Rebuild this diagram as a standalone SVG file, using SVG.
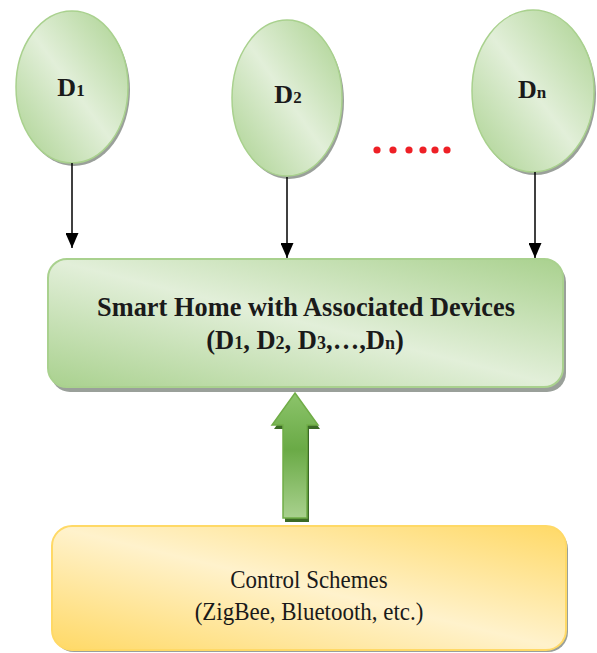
<svg xmlns="http://www.w3.org/2000/svg" width="597" height="653" viewBox="0 0 597 653">
  <defs>
    <linearGradient id="gGreen" x1="0" y1="1" x2="1" y2="0">
      <stop offset="0" stop-color="#a9d18e"/>
      <stop offset="0.5" stop-color="#e2efd9"/>
      <stop offset="1" stop-color="#a9d18e"/>
    </linearGradient>
    <linearGradient id="gYellow" x1="0" y1="1" x2="1" y2="0">
      <stop offset="0" stop-color="#ffd966"/>
      <stop offset="0.5" stop-color="#fff2cc"/>
      <stop offset="1" stop-color="#ffd966"/>
    </linearGradient>
    <linearGradient id="gArrow" x1="0" y1="0" x2="0" y2="1">
      <stop offset="0" stop-color="#8cc46b"/>
      <stop offset="0.45" stop-color="#6aaa46"/>
      <stop offset="1" stop-color="#a9d18e"/>
    </linearGradient>
    <marker id="ah" viewBox="0 0 15 13" refX="15" refY="6.5" markerWidth="15" markerHeight="13" markerUnits="userSpaceOnUse" orient="auto">
      <path d="M0,0 L15,6.5 L0,13 Z" fill="#000"/>
    </marker>
  </defs>
  <style>
    .shadow { fill: #9aa09a; }
    .ell { fill: url(#gGreen); stroke: #a9d18e; stroke-width: 1.5; }
    .lbl { font-family: "Liberation Serif", "Times New Roman", serif; font-weight: bold; fill: #1a1a1a; }
    .reg { font-family: "Liberation Serif", "Times New Roman", serif; fill: #1a1a1a; }
    .conn { stroke: #000; stroke-width: 1.5; fill: none; marker-end: url(#ah); }
    .dot { fill: #ee2026; }
    .sub { font-size: 17px; }
    .sub2 { font-size: 18px; }
  </style>

  <g id="node-d1">
    <ellipse class="shadow" cx="74" cy="90" rx="56" ry="76"/>
    <ellipse class="ell" cx="72" cy="87" rx="56" ry="76"/>
    <text class="lbl" x="71" y="96" text-anchor="middle" font-size="26">D<tspan class="sub">1</tspan></text>
  </g>

  <g id="node-d2">
    <ellipse class="shadow" cx="289" cy="101" rx="55" ry="78"/>
    <ellipse class="ell" cx="287" cy="98" rx="55" ry="78"/>
    <text class="lbl" x="288" y="103" text-anchor="middle" font-size="26">D<tspan class="sub">2</tspan></text>
  </g>

  <g id="node-dn">
    <ellipse class="shadow" cx="535" cy="94" rx="61" ry="81"/>
    <ellipse class="ell" cx="533" cy="91" rx="61" ry="81"/>
    <text class="lbl" x="532" y="98" text-anchor="middle" font-size="26">D<tspan class="sub">n</tspan></text>
  </g>

  <g id="ellipsis">
    <circle class="dot" cx="377" cy="150" r="3.6"/>
    <circle class="dot" cx="393" cy="150" r="3.6"/>
    <circle class="dot" cx="409" cy="150" r="3.6"/>
    <circle class="dot" cx="423" cy="150" r="3.6"/>
    <circle class="dot" cx="435" cy="150" r="3.6"/>
    <circle class="dot" cx="447" cy="150" r="3.6"/>
  </g>

  <g id="node-smarthome">
    <rect class="shadow" x="51" y="263" width="515" height="129" rx="19"/>
    <rect x="48" y="259" width="515" height="128" rx="19" fill="url(#gGreen)" stroke="#a9d18e" stroke-width="2"/>
    <text class="lbl" x="306" y="316" text-anchor="middle" font-size="26.3" textLength="418">Smart Home with Associated Devices</text>
    <text class="lbl" x="305" y="349" text-anchor="middle" font-size="26.5">(D<tspan class="sub2">1</tspan>, D<tspan class="sub2">2</tspan>, D<tspan class="sub2">3</tspan>,…,D<tspan class="sub2">n</tspan>)</text>
  </g>

  <g id="node-control">
    <rect class="shadow" x="54" y="529" width="514" height="123" rx="20"/>
    <rect x="52" y="526" width="514" height="124" rx="20" fill="url(#gYellow)" stroke="#ffd966" stroke-width="2"/>
    <text class="reg" transform="translate(309,588) scale(0.9,1)" text-anchor="middle" font-size="25.5">Control Schemes</text>
    <text class="reg" transform="translate(309,620) scale(0.9,1)" text-anchor="middle" font-size="25.5">(ZigBee, Bluetooth, etc.)</text>
  </g>

  <g id="connectors">
    <line class="conn" x1="72" y1="163" x2="72" y2="248"/>
    <line class="conn" x1="287" y1="177" x2="287" y2="258"/>
    <line class="conn" x1="535" y1="172" x2="535" y2="258"/>
    <g id="big-arrow">
      <polygon points="297,397 320,429 309,429 309,522 285,522 285,429 274,429" fill="#3b6a26"/>
      <polygon points="295,393 318,425 307,425 307,518 283,518 283,425 272,425" fill="url(#gArrow)" stroke="#70ad47" stroke-width="1.5"/>
    </g>
  </g>
</svg>
